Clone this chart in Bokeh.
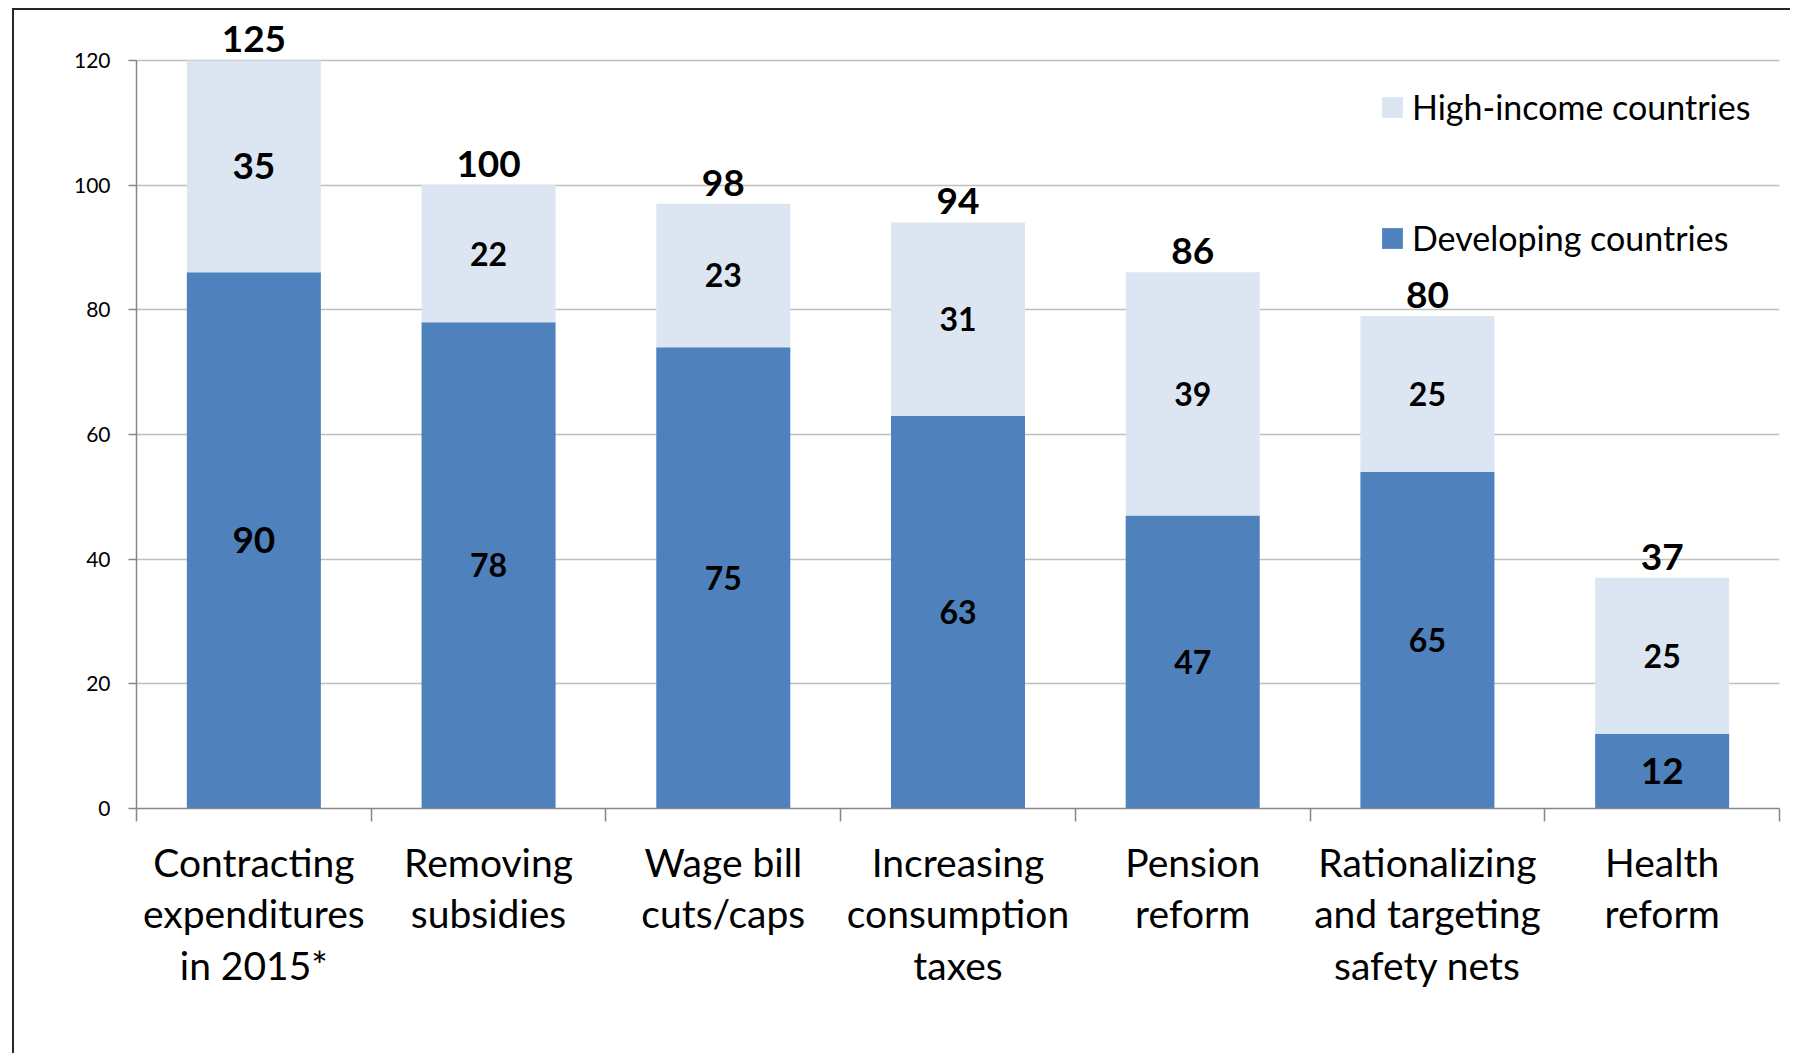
import numpy as np
from bokeh.plotting import figure
from bokeh.models import Range1d, FixedTicker, ColumnDataSource, Legend, LegendItem
from bokeh.embed import file_html
from bokeh.resources import INLINE
from bokeh.core.properties import value

# ---- data ----
categories = [
    "Contracting\nexpenditures\nin 2015*",
    "Removing\nsubsidies",
    "Wage bill\ncuts/caps",
    "Increasing\nconsumption\ntaxes",
    "Pension\nreform",
    "Rationalizing\nand targeting\nsafety nets",
    "Health\nreform",
]
developing = [86, 78, 74, 63, 47, 54, 12]
high_income = [35, 22, 23, 31, 39, 25, 25]
developing_labels = ["90", "78", "75", "63", "47", "65", "12"]
high_income_labels = ["35", "22", "23", "31", "39", "25", "25"]
total_labels = ["125", "100", "98", "94", "86", "80", "37"]
y_ticks = [0, 20, 40, 60, 80, 100, 120]

# ---- styles ----
DARK = "#4F81BD"
LIGHT = "#DCE6F2"
AXIS = "#868686"
GRID = "#BFBFBF"
FONT = "Lato"
AXIS_MAX = y_ticks[-1]
dev_label_size = ["37px" if i in (0, 6) else "32px" for i in range(len(categories))]
high_label_size = ["37px" if i == 0 else "32px" for i in range(len(categories))]

n = len(categories)
x = np.arange(n)
dev = np.array(developing, dtype=float)
high_drawn = np.minimum(dev + np.array(high_income, dtype=float), AXIS_MAX) - dev
top = dev + high_drawn

src = ColumnDataSource(dict(
    x=x, dev=dev, high=high_drawn, top=top,
    dev_mid=dev / 2, high_mid=dev + high_drawn / 2,
    dev_lab=developing_labels, high_lab=high_income_labels, tot_lab=total_labels,
    dev_size=dev_label_size, high_size=high_label_size,
))

p = figure(
    width=1778, height=1045,
    x_range=Range1d(-0.5, n - 0.5), y_range=Range1d(0, 128),
    output_backend="svg", toolbar_location=None, title=None,
    min_border_left=122, min_border_right=13, min_border_top=0, min_border_bottom=247,
)
p.outline_line_color = None
p.background_fill_color = "white"
p.border_fill_color = "white"
p.styles = {"margin-left": "12px", "margin-top": "8px",
            "border-left": "2px solid #262626", "border-top": "2px solid #262626"}

rs = p.vbar_stack(["dev", "high"], x="x", width=0.571, color=[DARK, LIGHT],
                  line_color=None, source=src)
r_dev, r_high = rs

# labels
p.text(x="x", y="dev_mid", text="dev_lab", source=src, text_align="center",
       text_baseline="middle", text_font=value(FONT), text_font_style="bold",
       text_font_size="dev_size", text_color="black")
p.text(x="x", y="high_mid", text="high_lab", source=src, text_align="center",
       text_baseline="middle", text_font=value(FONT), text_font_style="bold",
       text_font_size="high_size", text_color="black")
p.text(x="x", y="top", text="tot_lab", source=src, text_align="center",
       text_baseline="bottom", y_offset=-8, text_font=value(FONT), text_font_style="bold",
       text_font_size="37px", text_color="black")

# grid
p.xgrid.visible = False
p.ygrid.ticker = FixedTicker(ticks=y_ticks[1:])
p.ygrid.grid_line_color = GRID
p.ygrid.grid_line_width = 1.3

# y axis
ya = p.yaxis[0]
ya.ticker = FixedTicker(ticks=y_ticks)
ya.bounds = (0, AXIS_MAX)
ya.axis_line_color = AXIS
ya.axis_line_width = 1.5
ya.major_tick_line_color = AXIS
ya.major_tick_line_width = 1.5
ya.major_tick_out = 8
ya.major_tick_in = 0
ya.minor_tick_line_color = None
ya.major_label_text_font = FONT
ya.major_label_text_font_size = "21px"
ya.major_label_text_color = "black"
ya.major_label_standoff = 18

# x axis
xa = p.xaxis[0]
xa.ticker = FixedTicker(ticks=list(x), minor_ticks=[i - 0.5 for i in range(n + 1)])
xa.major_label_overrides = {int(i): c for i, c in zip(x, categories)}
xa.axis_line_color = AXIS
xa.axis_line_width = 1.5
xa.major_tick_line_color = None
xa.major_tick_out = 0
xa.major_tick_in = 0
xa.minor_tick_line_color = AXIS
xa.minor_tick_line_width = 1.5
xa.minor_tick_out = 13
xa.minor_tick_in = 0
xa.major_label_text_font = FONT
xa.major_label_text_font_size = "39px"
xa.major_label_text_color = "black"
xa.major_label_text_line_height = 1.13
xa.major_label_standoff = 17

legend = Legend(
    items=[LegendItem(label="High-income countries", renderers=[r_high]),
           LegendItem(label="Developing countries", renderers=[r_dev])],
    location=(1243, 550),
    border_line_color=None, background_fill_alpha=0, padding=0, margin=0,
    glyph_width=26, glyph_height=26, label_standoff=7, label_height=21,
    label_text_font=FONT, label_text_font_size="34px", label_text_color="black",
    spacing=90,
)
p.add_layout(legend)

open("out.html", "w").write(file_html(p, INLINE))
